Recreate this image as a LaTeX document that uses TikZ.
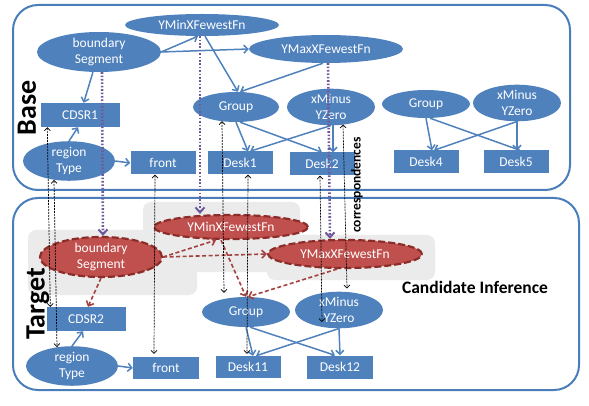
\documentclass[tikz,border=0pt]{standalone}
\usepackage{fontspec}
\setmainfont{Carlito}
\usetikzlibrary{shapes.geometric,arrows.meta}
\definecolor{ofblue}{HTML}{4F81BD}
\definecolor{boxblue}{HTML}{4A7EBB}
\definecolor{ofred}{HTML}{C0504D}
\definecolor{darkred}{HTML}{8C2D2A}
\definecolor{arrred}{HTML}{A4403D}
\definecolor{purp}{HTML}{705A9A}
\begin{document}
\begin{tikzpicture}[x=1pt,y=-1pt,
  every node/.style={font=\fontsize{13.5}{16.5}\selectfont},
  bell/.style={ellipse,fill=ofblue,text=white,inner sep=0pt,align=center},
  rell/.style={ellipse,fill=ofred,draw=darkred,line width=2.2pt,dash pattern=on 7pt off 3pt,text=white,inner sep=0pt,align=center},
  brect/.style={rectangle,fill=ofblue,text=white,inner sep=0pt,minimum width=65pt,minimum height=23pt},
  container/.style={draw=boxblue,line width=2pt,rounded corners=25pt},
  graybox/.style={fill=black!8,rounded corners=8pt},
  barr/.style={draw=ofblue,line width=1.5pt,-{Straight Barb[length=4pt,width=8pt]}},
  rarr/.style={draw=arrred,line width=1.6pt,dash pattern=on 4pt off 2.5pt,-{Straight Barb[length=4pt,width=8pt]}},
  parr/.style={draw=purp,line width=2.6pt,dash pattern=on 1.6pt off 1.8pt,-{Straight Barb[length=5pt,width=9pt,line width=2pt]}},
  karr/.style={draw=black,line width=0.7pt,dash pattern=on 2pt off 1pt,{Straight Barb[length=3pt,width=6pt]}-{Straight Barb[length=3pt,width=6pt]}},
  biglabel/.style={font=\fontsize{28}{30}\selectfont\bfseries,rotate=90,inner sep=0pt},
]
\useasboundingbox (0,0) rectangle (589,406);
% containers
\draw[container] (13,5) rectangle (570,190);
\draw[container] (13,198) rectangle (579,390);
% gray highlight boxes
\fill[graybox] (28,230) rectangle (197,295);
\fill[graybox] (143,202) rectangle (300,272);
\fill[graybox] (267,235) rectangle (435,280);

% ---- Base ----
\node[bell,minimum width=154pt,minimum height=22pt] (ymin) at (202,25) {YMinXFewestFn};
\node[bell,minimum width=124pt,minimum height=40pt] (bs) at (99,52) {boundary\\Segment};
\node[bell,minimum width=154pt,minimum height=28pt] (ymax) at (326,49) {YMaxXFewestFn};
\node[brect,minimum width=79pt,minimum height=24pt] (cdsr1) at (80,115) {CDSR1};
\node[bell,minimum width=86pt,minimum height=30pt] (grp) at (236,107) {Group};
\node[bell,minimum width=88pt,minimum height=28pt] (xmy) at (331,107) {xMinus\\YZero};
\node[bell,minimum width=92pt,minimum height=38pt] (rt) at (69,161) {region\\Type};
\node[brect] (front) at (163,163) {front};
\node[brect] (d1) at (240,163) {Desk1};
\node[brect] (d2) at (322,164) {Desk2};
\node[bell,minimum width=88pt,minimum height=28pt] (grp2) at (426,104) {Group};
\node[bell,minimum width=88pt,minimum height=28pt] (xmy2) at (517,103) {xMinus\\YZero};
\node[brect] (d4) at (426,162) {Desk4};
\node[brect] (d5) at (516,162) {Desk5};
\node[biglabel] (baselbl) at (27,108) {Base};

% ---- Target ----
\node[rell,minimum width=122pt,minimum height=40pt] (tbs) at (101,257) {boundary\\Segment};
\node[rell,minimum width=154pt,minimum height=24pt] (tymin) at (231,227) {YMinXFewestFn};
\node[rell,minimum width=154pt,minimum height=28pt] (tymax) at (345,254) {YMaxXFewestFn};
\node[brect,minimum width=79pt,minimum height=24pt] (cdsr2) at (86,319) {CDSR2};
\node[bell,minimum width=88pt,minimum height=30pt] (tgrp) at (246,312) {Group};
\node[bell,minimum width=88pt,minimum height=28pt] (txmy) at (339,310) {xMinus\\YZero};
\node[bell,minimum width=92pt,minimum height=38pt] (trt) at (72,366) {region\\Type};
\node[brect,minimum width=66pt,minimum height=22pt] (tfront) at (166,368) {front};
\node[brect,minimum height=22pt] (d11) at (248,367) {Desk11};
\node[brect,minimum width=66pt] (d12) at (340,367) {Desk12};
\node[biglabel] (tgtlbl) at (38,304) {Target};
\node[font=\fontsize{17.5}{19}\selectfont\bfseries] (cand) at (475,287) {Candidate Inference};
\node[font=\fontsize{13.5}{15}\selectfont\bfseries,rotate=90,inner sep=0pt] (corr) at (357,185) {correspondences};

% ---- blue arrows (base) ----
\draw[barr] (bs) -- (cdsr1);
\draw[barr] (bs.east) -- (ymax.west);
\draw[barr] (bs.east) -- ([xshift=-4pt]ymin.south);
\draw[barr] ([xshift=3pt]ymin.south) -- ([xshift=2pt]grp.north);
\draw[barr] ([xshift=-3pt]ymax.south) -- ([xshift=4pt]grp.north);
\draw[barr] (grp.south) -- ([xshift=8pt]d1.north);
\draw[barr] ([xshift=4pt]grp.south) -- (d2.north);
\draw[barr] (xmy.south) -- ([xshift=10pt]d1.north);
\draw[barr] ([xshift=2pt]xmy.south) -- ([xshift=11pt]d2.north);
\draw[barr] (grp2.south) -- ([xshift=6pt]d4.north);
\draw[barr] ([xshift=4pt]grp2.south) -- ([xshift=4pt]d5.north);
\draw[barr] (xmy2.south) -- ([xshift=8pt]d4.north);
\draw[barr] (xmy2.south) -- ([xshift=1pt]d5.north);
\draw[barr] (rt.north) -- ([xshift=-2pt]cdsr1.south);
\draw[barr] (rt.east) -- (front.west);

% ---- blue arrows (target) ----
\draw[barr] (trt.north) -- ([xshift=-3pt]cdsr2.south);
\draw[barr] (trt.east) -- (tfront.west);
\draw[barr] (tgrp.south) -- ([xshift=5pt]d11.north);
\draw[barr] ([xshift=4pt]tgrp.south) -- ([xshift=-5pt]d12.north);
\draw[barr] (txmy.south) -- ([xshift=8pt]d11.north);
\draw[barr] (txmy.south) -- (d12.north);

% ---- red dashed arrows ----
\draw[rarr] (tbs.south) -- ([xshift=2pt]cdsr2.north);
\draw[rarr] (tbs.east) -- ([xshift=-15pt]tymin.south);
\draw[rarr] (tbs.east) -- (tymax.west);
\draw[rarr] ([xshift=-10pt]tymin.south) -- (tgrp.north);
\draw[rarr] ([xshift=-8pt]tymax.south) -- ([xshift=2pt]tgrp.north);

% ---- purple dotted arrows ----
\draw[parr] ([xshift=3pt]bs.south) -- ([xshift=2pt]tbs.north);
\draw[parr] ([xshift=-2pt]ymin.south) -- ([xshift=-31pt]tymin.north);
\draw[parr] ([xshift=2pt]ymax.south) -- ([xshift=-15pt]tymax.north);

% ---- black dashed correspondences ----
\coordinate (x6) at (322,322);
\draw[karr] ([xshift=7pt]cdsr1.south west) -- ([xshift=4pt]cdsr2.north west);
\draw[karr] ([xshift=-15pt,yshift=1pt]rt.south) -- ([xshift=-15pt,yshift=-1pt]trt.north);
\draw[karr] ([xshift=-8pt]front.south) -- ([xshift=-12pt,yshift=3pt]tfront.north);
\draw[karr] ([xshift=-14pt,yshift=1pt]grp.south) -- ([xshift=-22pt,yshift=4pt]tgrp.north);
\draw[karr] ([xshift=8pt]d1.south) -- ([xshift=-1pt,yshift=2pt]d11.north);
\draw[karr] ([xshift=-2pt]d2.south) -- (x6);
\draw[karr] ([xshift=12pt,yshift=1pt]xmy.south) -- ([xshift=8pt,yshift=3pt]txmy.north);
\end{tikzpicture}
\end{document}
